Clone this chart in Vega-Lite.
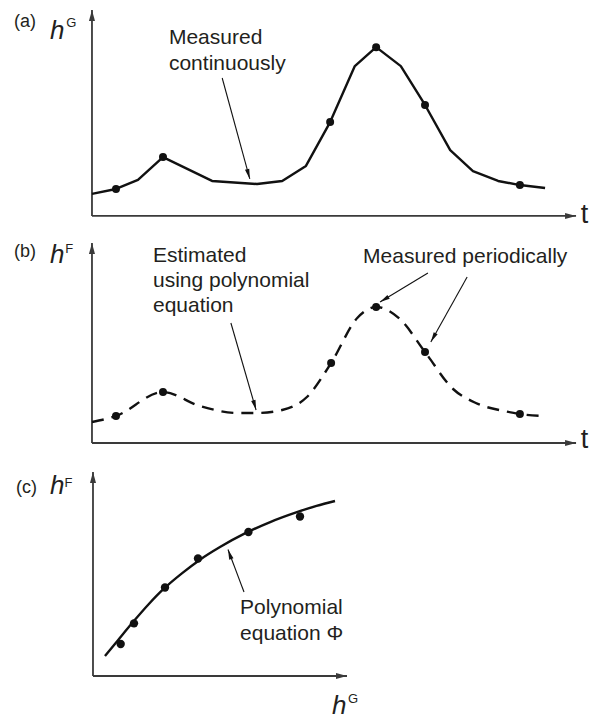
{
  "$schema": "https://vega.github.io/schema/vega-lite/v6.json",
  "padding": 0,
  "spacing": 0,
  "bounds": "flush",
  "config": {"view": {"stroke": null}, "font": "Liberation Sans", "text": {"color": "#231f20", "font": "Liberation Sans"}},
  "vconcat": [
    {
      "width": 593,
      "height": 232,
      "encoding": {
        "x": {"field": "t", "type": "quantitative", "scale": {"domain": [-19, 103.5], "nice": false, "zero": false}, "axis": null},
        "y": {"field": "h", "type": "quantitative", "scale": {"domain": [-7.8, 104.9], "nice": false, "zero": false}, "axis": null}
      },
      "layer": [
        {"data": {"values": [{"t": 0, "h": 0, "t2": 100, "h2": 0}, {"t": 0, "h": 0, "t2": 0, "h2": 100}]},
         "mark": {"type": "rule", "color": "#3a3a3a", "strokeWidth": 1.8},
         "encoding": {"x2": {"field": "t2"}, "y2": {"field": "h2"}}},
        {"data": {"values": [{"t": 100, "h": 0, "dir": "right"}, {"t": 0, "h": 100, "dir": "up"}]},
         "mark": {"type": "point", "filled": true, "color": "#3a3a3a", "opacity": 1, "size": 121, "strokeWidth": 0},
         "encoding": {"shape": {"field": "dir", "type": "nominal", "scale": {"domain": ["up", "right"], "range": ["M0,0L0.55,2L-0.55,2Z", "M0,0L-2,-0.55L-2,0.55Z"]}, "legend": null}}},
        {"data": {"values": [
          {"t": 0, "h": 10.7}, {"t": 4.96, "h": 13.1}, {"t": 9.5, "h": 17.5}, {"t": 14.67, "h": 28.6},
          {"t": 24.8, "h": 17.0}, {"t": 34.1, "h": 15.5}, {"t": 39.3, "h": 17.0}, {"t": 44.2, "h": 24.3},
          {"t": 49.2, "h": 45.6}, {"t": 54.3, "h": 72.8}, {"t": 58.7, "h": 82.0}, {"t": 63.8, "h": 72.8},
          {"t": 68.8, "h": 53.9}, {"t": 74.0, "h": 32.0}, {"t": 78.7, "h": 21.8}, {"t": 83.9, "h": 17.0},
          {"t": 88.4, "h": 15.0}, {"t": 93.6, "h": 13.6}]},
         "mark": {"type": "line", "color": "#111111", "strokeWidth": 2.4, "strokeJoin": "round"}},
        {"data": {"values": [
          {"t": 4.96, "h": 13.1}, {"t": 14.67, "h": 28.6}, {"t": 49.2, "h": 45.6},
          {"t": 58.7, "h": 82.0}, {"t": 68.8, "h": 53.9}, {"t": 88.4, "h": 15.0}]},
         "mark": {"type": "circle", "color": "#111111", "size": 64, "opacity": 1}},
        {"data": {"values": [{"t": 26.9, "h": 67.0, "t2": 32.6, "h2": 18.0}]},
         "mark": {"type": "rule", "color": "#111111", "strokeWidth": 1.1},
         "encoding": {"x2": {"field": "t2"}, "y2": {"field": "h2"}}},
        {"data": {"values": [{"t": 32.6, "h": 18.0}]},
         "mark": {"type": "point", "shape": "M0,0L0.45,2L-0.45,2Z", "size": 100, "angle": 164.5, "filled": true, "color": "#111111", "opacity": 1, "strokeWidth": 0}},
        {"data": {"values": [{"t": 15.9, "h": 83.7, "label": "Measured"}, {"t": 15.9, "h": 71.1, "label": "continuously"}]},
         "mark": {"type": "text", "align": "left", "baseline": "alphabetic", "fontSize": 21},
         "encoding": {"text": {"field": "label"}}},
        {"data": {"values": [{"t": -13.84, "h": 91.7, "label": "(a)"}]},
         "mark": {"type": "text", "align": "center", "baseline": "alphabetic", "fontSize": 18},
         "encoding": {"text": {"field": "label"}}},
        {"data": {"values": [{"t": -8.68, "h": 85.9, "label": "h"}]},
         "mark": {"type": "text", "align": "left", "baseline": "alphabetic", "fontSize": 26, "fontStyle": "italic"},
         "encoding": {"text": {"field": "label"}}},
        {"data": {"values": [{"t": -5.3, "h": 91.7, "label": "G"}]},
         "mark": {"type": "text", "align": "left", "baseline": "alphabetic", "fontSize": 13},
         "encoding": {"text": {"field": "label"}}},
        {"data": {"values": [{"t": 101.76, "h": -3.4, "label": "t"}]},
         "mark": {"type": "text", "align": "center", "baseline": "alphabetic", "fontSize": 27},
         "encoding": {"text": {"field": "label"}}}
      ]
    },
    {
      "width": 593,
      "height": 230,
      "encoding": {
        "x": {"field": "t", "type": "quantitative", "scale": {"domain": [-19, 103.5], "nice": false, "zero": false}, "axis": null},
        "y": {"field": "h", "type": "quantitative", "scale": {"domain": [-9.5, 105.5], "nice": false, "zero": false}, "axis": null}
      },
      "layer": [
        {"data": {"values": [{"t": 0, "h": 0, "t2": 100, "h2": 0}, {"t": 0, "h": 0, "t2": 0, "h2": 100}]},
         "mark": {"type": "rule", "color": "#3a3a3a", "strokeWidth": 1.8},
         "encoding": {"x2": {"field": "t2"}, "y2": {"field": "h2"}}},
        {"data": {"values": [{"t": 100, "h": 0, "dir": "right"}, {"t": 0, "h": 100, "dir": "up"}]},
         "mark": {"type": "point", "filled": true, "color": "#3a3a3a", "opacity": 1, "size": 121, "strokeWidth": 0},
         "encoding": {"shape": {"field": "dir", "type": "nominal", "scale": {"domain": ["up", "right"], "range": ["M0,0L0.55,2L-0.55,2Z", "M0,0L-2,-0.55L-2,0.55Z"]}, "legend": null}}},
        {"data": {"values": [
          {"t": 0, "h": 10.5}, {"t": 4.96, "h": 13.5}, {"t": 14.67, "h": 25.5}, {"t": 22.3, "h": 18.5},
          {"t": 30, "h": 15}, {"t": 34.1, "h": 15}, {"t": 39.3, "h": 16.5}, {"t": 44.4, "h": 23},
          {"t": 49.4, "h": 40}, {"t": 54.8, "h": 62.5}, {"t": 58.7, "h": 68}, {"t": 63.6, "h": 62},
          {"t": 68.8, "h": 45.5}, {"t": 74.6, "h": 27}, {"t": 79.3, "h": 20}, {"t": 85.5, "h": 15.8},
          {"t": 88.4, "h": 14.5}, {"t": 93.6, "h": 13.5}]},
         "mark": {"type": "line", "color": "#111111", "strokeWidth": 2.4, "strokeDash": [12, 8], "interpolate": "monotone"}},
        {"data": {"values": [
          {"t": 4.96, "h": 13.5}, {"t": 14.67, "h": 25.5}, {"t": 49.4, "h": 40},
          {"t": 58.7, "h": 68}, {"t": 68.8, "h": 45.5}, {"t": 88.4, "h": 14.5}]},
         "mark": {"type": "circle", "color": "#111111", "size": 64, "opacity": 1}},
        {"data": {"values": [
          {"t": 28.7, "h": 60, "t2": 33.9, "h2": 16.5},
          {"t": 69.4, "h": 85, "t2": 59.5, "h2": 70.5},
          {"t": 77.5, "h": 83, "t2": 70.0, "h2": 50.5}]},
         "mark": {"type": "rule", "color": "#111111", "strokeWidth": 1.1},
         "encoding": {"x2": {"field": "t2"}, "y2": {"field": "h2"}}},
        {"data": {"values": [{"t": 33.9, "h": 16.5}]},
         "mark": {"type": "point", "shape": "M0,0L0.45,2L-0.45,2Z", "size": 100, "angle": 164, "filled": true, "color": "#111111", "opacity": 1, "strokeWidth": 0}},
        {"data": {"values": [{"t": 59.5, "h": 70.5}]},
         "mark": {"type": "point", "shape": "M0,0L0.45,2L-0.45,2Z", "size": 100, "angle": 239, "filled": true, "color": "#111111", "opacity": 1, "strokeWidth": 0}},
        {"data": {"values": [{"t": 70.0, "h": 50.5}]},
         "mark": {"type": "point", "shape": "M0,0L0.45,2L-0.45,2Z", "size": 100, "angle": 209, "filled": true, "color": "#111111", "opacity": 1, "strokeWidth": 0}},
        {"data": {"values": [
          {"t": 12.6, "h": 90.5, "label": "Estimated"},
          {"t": 12.6, "h": 78, "label": "using polynomial"},
          {"t": 12.6, "h": 65.5, "label": "equation"},
          {"t": 56.0, "h": 90, "label": "Measured periodically"}]},
         "mark": {"type": "text", "align": "left", "baseline": "alphabetic", "fontSize": 21},
         "encoding": {"text": {"field": "label"}}},
        {"data": {"values": [{"t": -13.84, "h": 93, "label": "(b)"}]},
         "mark": {"type": "text", "align": "center", "baseline": "alphabetic", "fontSize": 18},
         "encoding": {"text": {"field": "label"}}},
        {"data": {"values": [{"t": -8.68, "h": 90, "label": "h"}]},
         "mark": {"type": "text", "align": "left", "baseline": "alphabetic", "fontSize": 26, "fontStyle": "italic"},
         "encoding": {"text": {"field": "label"}}},
        {"data": {"values": [{"t": -5.5, "h": 95, "label": "F"}]},
         "mark": {"type": "text", "align": "left", "baseline": "alphabetic", "fontSize": 13},
         "encoding": {"text": {"field": "label"}}},
        {"data": {"values": [{"t": 101.76, "h": -2.5, "label": "t"}]},
         "mark": {"type": "text", "align": "center", "baseline": "alphabetic", "fontSize": 27},
         "encoding": {"text": {"field": "label"}}}
      ]
    },
    {
      "width": 593,
      "height": 259,
      "encoding": {
        "x": {"field": "hG", "type": "quantitative", "scale": {"domain": [-36.61, 196.85], "nice": false, "zero": false}, "axis": null},
        "y": {"field": "hF", "type": "quantitative", "scale": {"domain": [-22.06, 104.9], "nice": false, "zero": false}, "axis": null}
      },
      "layer": [
        {"data": {"values": [{"hG": 0, "hF": 0, "hG2": 100, "hF2": 0}, {"hG": 0, "hF": 0, "hG2": 0, "hF2": 100}]},
         "mark": {"type": "rule", "color": "#3a3a3a", "strokeWidth": 1.8},
         "encoding": {"x2": {"field": "hG2"}, "y2": {"field": "hF2"}}},
        {"data": {"values": [{"hG": 100, "hF": 0, "dir": "right"}, {"hG": 0, "hF": 100, "dir": "up"}]},
         "mark": {"type": "point", "filled": true, "color": "#3a3a3a", "opacity": 1, "size": 121, "strokeWidth": 0},
         "encoding": {"shape": {"field": "dir", "type": "nominal", "scale": {"domain": ["up", "right"], "range": ["M0,0L0.55,2L-0.55,2Z", "M0,0L-2,-0.55L-2,0.55Z"]}, "legend": null}}},
        {"data": {"values": [
          {"hG": 4.72, "hF": 9.8}, {"hG": 10, "hF": 17.8}, {"hG": 16, "hF": 26.8}, {"hG": 22, "hF": 35.3},
          {"hG": 28, "hF": 42.9}, {"hG": 35, "hF": 50.3}, {"hG": 42, "hF": 56.9}, {"hG": 50, "hF": 63.2},
          {"hG": 60, "hF": 70.0}, {"hG": 70, "hF": 75.6}, {"hG": 80, "hF": 80.2}, {"hG": 88, "hF": 83.4},
          {"hG": 95.28, "hF": 85.8}]},
         "mark": {"type": "line", "color": "#111111", "strokeWidth": 2.4, "interpolate": "monotone"}},
        {"data": {"values": [
          {"hG": 10.9, "hF": 15.7}, {"hG": 16.14, "hF": 25.8}, {"hG": 28.35, "hF": 43.4},
          {"hG": 41.34, "hF": 57.6}, {"hG": 61.2, "hF": 70.6}, {"hG": 81.5, "hF": 78.2}]},
         "mark": {"type": "circle", "color": "#111111", "size": 70, "opacity": 1}},
        {"data": {"values": [{"hG": 59.45, "hF": 41.2, "hG2": 53.15, "hF2": 62.0}]},
         "mark": {"type": "rule", "color": "#111111", "strokeWidth": 1.1},
         "encoding": {"x2": {"field": "hG2"}, "y2": {"field": "hF2"}}},
        {"data": {"values": [{"hG": 53.15, "hF": 62.0}]},
         "mark": {"type": "point", "shape": "M0,0L0.45,2L-0.45,2Z", "size": 100, "angle": 340.4, "filled": true, "color": "#111111", "opacity": 1, "strokeWidth": 0}},
        {"data": {"values": [{"hG": 57.9, "hF": 30.4, "label": "Polynomial"}, {"hG": 57.9, "hF": 17.6, "label": "equation Φ"}]},
         "mark": {"type": "text", "align": "left", "baseline": "alphabetic", "fontSize": 21},
         "encoding": {"text": {"field": "label"}}},
        {"data": {"values": [{"hG": -26.2, "hF": 89.7, "label": "(c)"}]},
         "mark": {"type": "text", "align": "center", "baseline": "alphabetic", "fontSize": 18},
         "encoding": {"text": {"field": "label"}}},
        {"data": {"values": [{"hG": -16.93, "hF": 89.2, "label": "h"}, {"hG": 94.1, "hF": -18.4, "label": "h"}]},
         "mark": {"type": "text", "align": "left", "baseline": "alphabetic", "fontSize": 26, "fontStyle": "italic"},
         "encoding": {"text": {"field": "label"}}},
        {"data": {"values": [{"hG": -11.2, "hF": 92.6, "label": "F"}, {"hG": 100.4, "hF": -13.2, "label": "G"}]},
         "mark": {"type": "text", "align": "left", "baseline": "alphabetic", "fontSize": 13},
         "encoding": {"text": {"field": "label"}}}
      ]
    }
  ]
}
